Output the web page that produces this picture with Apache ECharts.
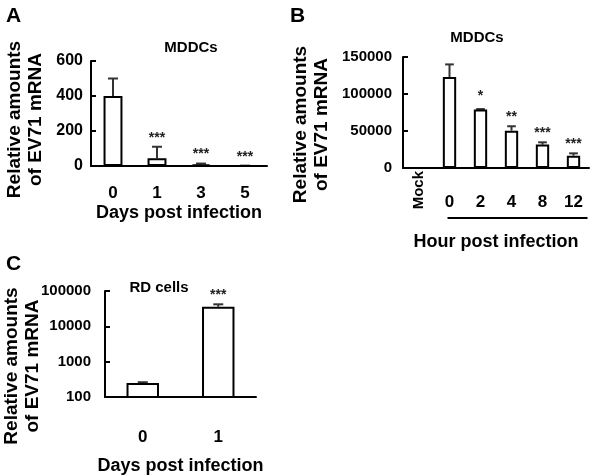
<!DOCTYPE html>
<html>
<head>
<meta charset="utf-8">
<script src="https://cdn.jsdelivr.net/npm/echarts@6/dist/echarts.min.js"></script>
<style>
html,body{margin:0;padding:0;background:#fff;}
#chart{width:600px;height:476px;}
</style>
</head>
<body>
<div id="chart"></div>
<script>
// ---- Data ----
const catA = ['0', '1', '3', '5'];
const valA = [400, 45, 10, 1];
const errA = [500, 110, 14, 2];
const sigA = ['', '***', '***', '***'];

const catB = ['Mock', '0', '2', '4', '8', '12'];
const valB = [0, 123000, 79000, 50500, 31600, 16700];
const errB = [0, 140000, 79600, 56400, 34700, 19800];
const sigB = ['', '', '*', '**', '***', '***'];

const catC = ['0', '1'];
const valC = [250, 36000];
const errC = [262, 42000];
const sigC = ['', '***'];

const ticksA = [0, 200, 400, 600];
const ticksB = [0, 50000, 100000, 150000];
const ticksC = [100, 1000, 10000, 100000];

// ---- Styles ----
const FONT = '"Liberation Sans", Arial, sans-serif';
const BLACK = '#000';

function xAxisCfg(grid, data, name, labelMargin, nameGap) {
  return {
    type: 'category', gridIndex: grid, data: data, position: 'bottom',
    axisLine: {lineStyle: {color: BLACK, width: 2}},
    axisTick: {inside: true, length: 4, lineStyle: {color: BLACK, width: 2}},
    axisLabel: {color: BLACK, fontSize: 17, fontWeight: 'bold', fontFamily: FONT, margin: labelMargin},
    name: name, nameLocation: 'middle', nameGap: nameGap, nameMoveOverlap: false,
    nameTextStyle: {color: BLACK, fontSize: 18, fontWeight: 'bold', fontFamily: FONT}
  };
}
function yAxisCfg(grid, extra, labelSize, labelMargin, nameGap, shift) {
  return Object.assign({
    gridIndex: grid, splitLine: {show: false},
    axisLine: {show: true, lineStyle: {color: BLACK, width: 2}},
    axisTick: {show: true, inside: true, length: 5, lineStyle: {color: BLACK, width: 2}},
    axisLabel: {color: BLACK, fontSize: labelSize, fontWeight: 'bold', fontFamily: FONT, margin: labelMargin,
      formatter: v => String(Math.round(v))},
    name: 'Relative amounts\nof EV71 mRNA', nameLocation: 'middle', nameGap: nameGap, nameMoveOverlap: false,
    nameTextStyle: {color: BLACK, fontSize: 19, fontWeight: 'bold', fontFamily: FONT, lineHeight: 21,
      padding: [0, shift * 2, 0, 0]}
  }, extra);
}

function barSeries(xi, yi, vals) {
  return {
    type: 'bar', xAxisIndex: xi, yAxisIndex: yi, data: vals, barWidth: '43%', clip: true,
    itemStyle: {color: '#fff', borderColor: BLACK, borderWidth: 2},
    emphasis: {disabled: true}, animation: false, z: 3
  };
}
function errSeries(xi, yi, vals, errs, sigs) {
  return {
    type: 'custom', xAxisIndex: xi, yAxisIndex: yi, animation: false, z: 2,
    data: vals.map((v, i) => [i, v, errs[i]]),
    encode: {x: 0, y: [1, 2]},
    renderItem: function (params, api) {
      const i = api.value(0);
      const base = api.coord([i, api.value(1)]);
      const top = api.coord([i, api.value(2)]);
      const bw = api.size([1, 0])[0];
      const cap = Math.min(5, bw * 0.14);
      const children = [];
      if (api.value(2) > api.value(1)) {
        children.push({type: 'line', shape: {x1: base[0], y1: base[1], x2: top[0], y2: top[1]},
          style: {stroke: '#333', lineWidth: 2}});
        children.push({type: 'line', shape: {x1: top[0] - cap, y1: top[1], x2: top[0] + cap, y2: top[1]},
          style: {stroke: '#333', lineWidth: 2}});
      }
      const s = sigs[params.dataIndex];
      if (s) {
        const lift = s.length === 1 ? 13 : 9;
        children.push({type: 'text', style: {text: s, x: top[0], y: top[1] - lift, align: 'center',
          verticalAlign: 'middle', fontSize: 14, fontWeight: 'bold', fontFamily: FONT, fill: '#222'}});
      }
      return {type: 'group', children: children};
    }
  };
}

const titleStyle = {color: BLACK, fontSize: 15, fontWeight: 'bold', fontFamily: FONT};
const letterStyle = {color: BLACK, fontSize: 21, fontWeight: 'bold', fontFamily: FONT};

const option = {
  animation: false,
  backgroundColor: '#fff',
  textStyle: {fontFamily: FONT},
  title: [
    {text: 'A', left: 6, top: 6, padding: 0, textStyle: letterStyle},
    {text: 'B', left: 290, top: 6, padding: 0, textStyle: letterStyle},
    {text: 'C', left: 6, top: 254, padding: 0, textStyle: letterStyle},
    {text: 'MDDCs', left: 191, top: 40, padding: 0, textAlign: 'center', textStyle: titleStyle},
    {text: 'MDDCs', left: 477, top: 30, padding: 0, textAlign: 'center', textStyle: titleStyle},
    {text: 'RD cells', left: 159, top: 280, padding: 0, textAlign: 'center', textStyle: titleStyle}
  ],
  grid: [
    {left: 91, top: 61, width: 176, height: 105, containLabel: false, outerBoundsMode: 'none'},
    {left: 403, top: 57, width: 186, height: 111, containLabel: false, outerBoundsMode: 'none'},
    {left: 105, top: 291, width: 151, height: 106, containLabel: false, outerBoundsMode: 'none'}
  ],
  xAxis: [
    xAxisCfg(0, catA, 'Days post infection', 19, 38),
    xAxisCfg(1, catB, 'Hour post infection', 26, 65),
    xAxisCfg(2, catC, 'Days post infection', 32, 60),
    {
      type: 'category', gridIndex: 1, data: catB, position: 'bottom',
      axisLine: {show: false}, axisTick: {show: false},
      axisLabel: {rotate: 90, color: BLACK, fontSize: 15, fontWeight: 'bold', fontFamily: FONT, margin: 3,
        formatter: v => (v === 'Mock' ? v : '')}
    }
  ],
  yAxis: [
    yAxisCfg(0, {type: 'value', min: ticksA[0], max: ticksA[ticksA.length - 1], interval: ticksA[1] - ticksA[0]}, 16, 8, 45, 6),
    yAxisCfg(1, {type: 'value', min: ticksB[0], max: ticksB[ticksB.length - 1], interval: ticksB[1] - ticksB[0]}, 15, 11, 71, 12),
    yAxisCfg(2, {type: 'log', logBase: 10, min: ticksC[0], max: ticksC[ticksC.length - 1]}, 15, 14, 62, 22)
  ],
  series: [
    errSeries(0, 0, valA, errA, sigA), barSeries(0, 0, valA),
    errSeries(1, 1, valB, errB, sigB), barSeries(1, 1, valB),
    errSeries(2, 2, valC, errC, sigC), barSeries(2, 2, valC)
  ]
};
// B x-axis labels: hide Mock on the main axis (it is drawn rotated by the overlay axis)
option.xAxis[1].axisLabel.formatter = v => (v === 'Mock' ? '' : v);

const chart = echarts.init(document.getElementById('chart'), null, {renderer: 'canvas'});
chart.setOption(option);

// Bracket line under the infected time points of panel B
const p0 = chart.convertToPixel({xAxisIndex: 1, yAxisIndex: 1}, [catB[1], 0]);
const p1 = chart.convertToPixel({xAxisIndex: 1, yAxisIndex: 1}, [catB[catB.length - 1], 0]);
chart.setOption({
  graphic: [{type: 'line', shape: {x1: p0[0] - 2, y1: p0[1] + 50, x2: p1[0] + 14, y2: p1[1] + 50},
    style: {stroke: BLACK, lineWidth: 2}}]
});
</script>
</body>
</html>
